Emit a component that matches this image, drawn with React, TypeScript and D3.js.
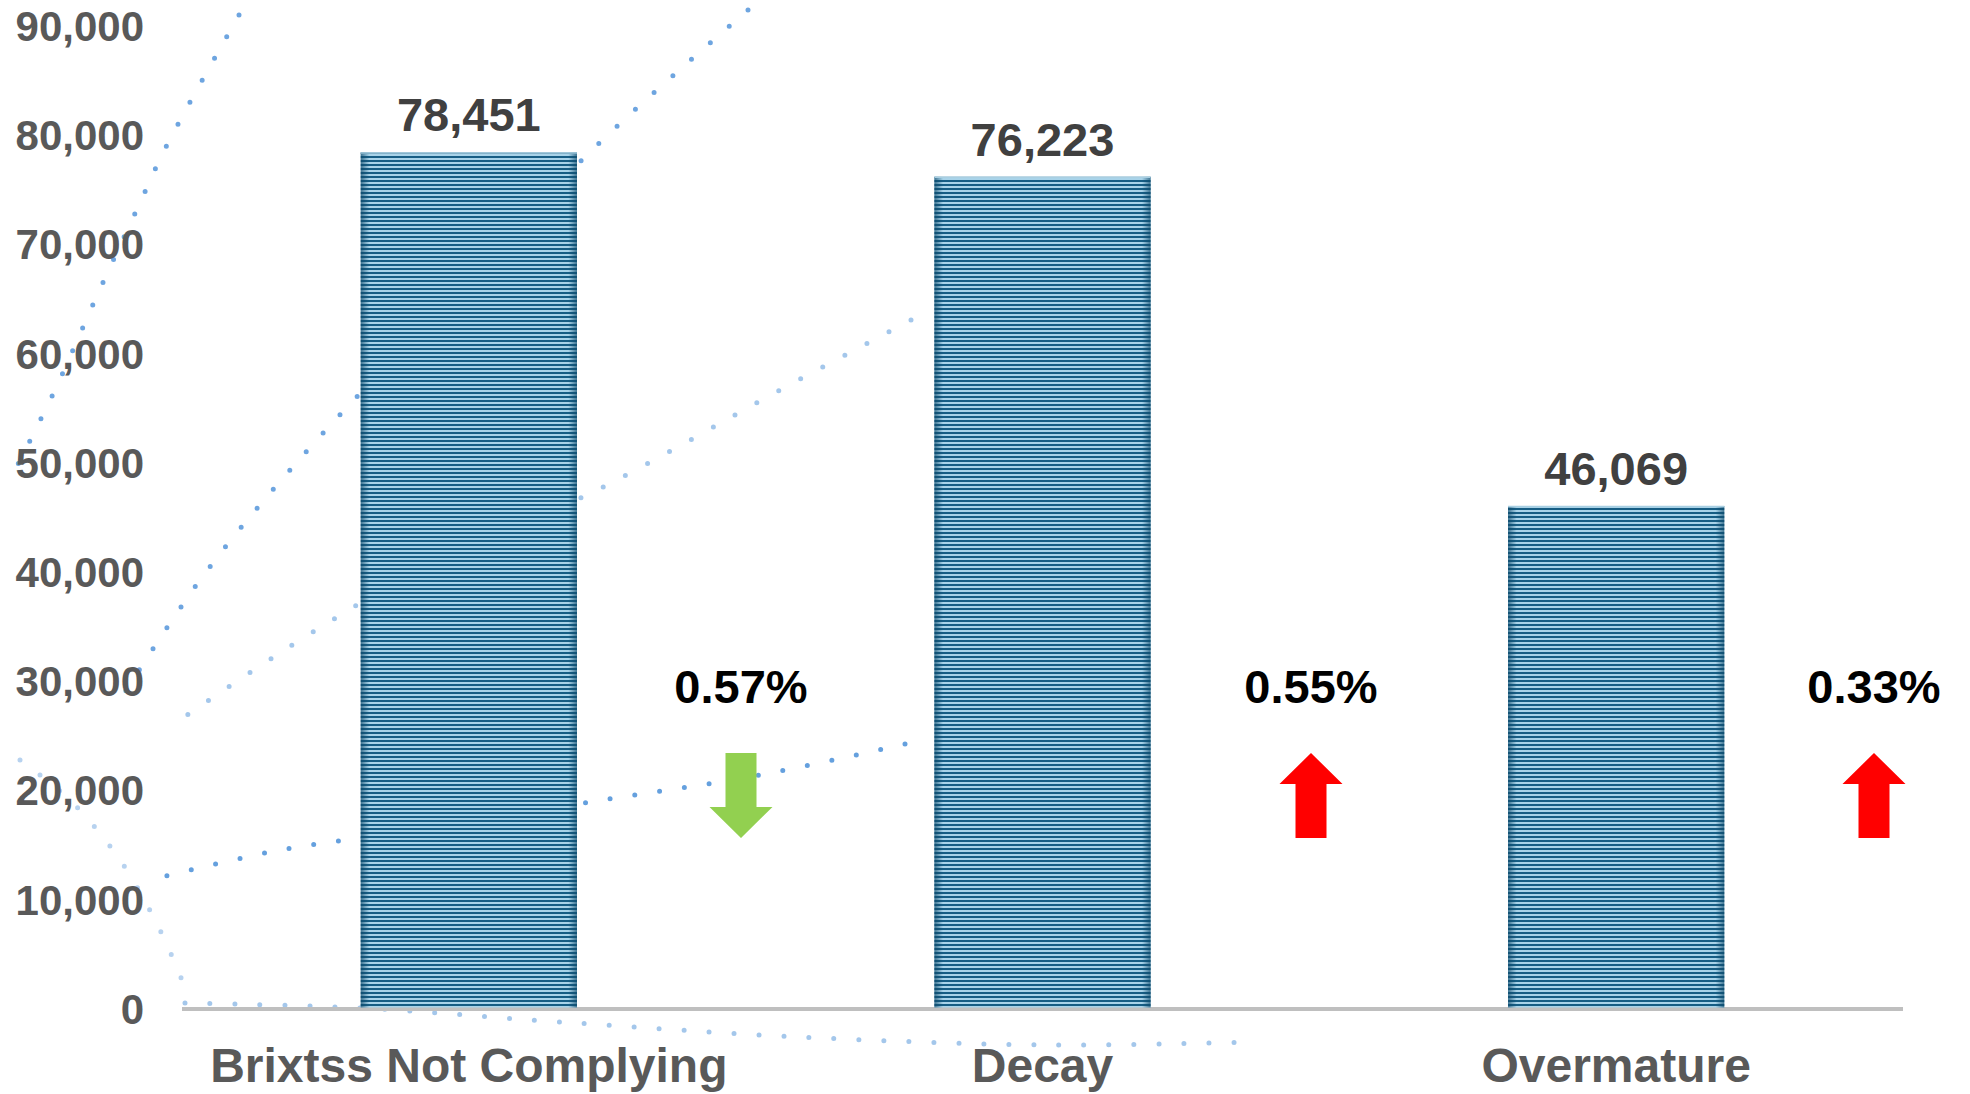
import React from "react";
import * as d3 from "d3";

const categories = ["Brixtss Not Complying", "Decay", "Overmature"];
const counts = [78451, 76223, 46069];
const changeLabels = ["0.57%", "0.55%", "0.33%"];
const changeDirections = ["down", "up", "up"];
const yTicks = [0, 10000, 20000, 30000, 40000, 50000, 60000, 70000, 80000, 90000];

// faint dotted curves of the slide background
const bgCurves: [number, number][][] = [
  [[239, 15], [167, 145], [138, 207], [95, 300], [55, 390], [15, 470]],
  [[748, 10], [594, 148], [420, 330], [290, 470], [200, 580], [120, 700]],
  [[911, 320], [780, 390], [597, 490], [420, 570], [300, 640], [180, 720]],
  [[905, 744], [760, 775], [590, 802], [420, 830], [280, 850], [150, 880]],
  [[185, 1003], [360, 1008], [560, 1022], [800, 1037], [1050, 1045], [1250, 1042]],
  [[20, 760], [70, 800], [120, 860], [160, 930], [190, 1000]],
];
const bgOpacity = [0.8, 0.8, 0.5, 0.85, 0.5, 0.4];

const W = 1970;
const H = 1094;
const left = 182;
const right = 1903;
const bottom = 1009;
const top = 26.4;

export default function App() {
  const x = d3.scaleBand<string>().domain(categories).range([left, right]).paddingInner(0.623).paddingOuter(0.3115);
  const y = d3.scaleLinear().domain([0, 90000]).range([bottom, top]);
  // change markers sit in the gaps to the right of each bar
  const xMark = d3.scaleLinear().domain([0, 1, 2]).range([741, 1311, 1874]);
  const fmt = d3.format(",");
  const bgLine = d3.line().curve(d3.curveCatmullRom);
  const bw = x.bandwidth();

  const arrow = (cx: number, dir: string) => {
    const t = 753, b = 838, head = 31, hw = 31.5, sw = 15.5;
    if (dir === "up") {
      return `M${cx},${t} L${cx + hw},${t + head} L${cx + sw},${t + head} L${cx + sw},${b} L${cx - sw},${b} L${cx - sw},${t + head} L${cx - hw},${t + head} Z`;
    }
    return `M${cx - sw},${t} L${cx + sw},${t} L${cx + sw},${b - head} L${cx + hw},${b - head} L${cx},${b} L${cx - hw},${b - head} L${cx - sw},${b - head} Z`;
  };

  return (
    <svg width={W} height={H} style={{ position: "absolute", left: 0, top: 0, background: "#fff" }}
      fontFamily="'Liberation Sans', Arial, sans-serif" fontWeight="bold">
      <defs>
        <pattern id="stripes" patternUnits="userSpaceOnUse" width={8} height={4}>
          <rect width={8} height={4} fill="#a8d3e9" />
          <rect width={8} height={2} fill="#165d84" />
        </pattern>
        <linearGradient id="edge" x1="0" x2="1" y1="0" y2="0">
          <stop offset="0" stopColor="#0e4a6b" stopOpacity={0.7} />
          <stop offset="0.04" stopColor="#0e4a6b" stopOpacity={0} />
          <stop offset="0.96" stopColor="#0e4a6b" stopOpacity={0} />
          <stop offset="1" stopColor="#0e4a6b" stopOpacity={0.7} />
        </linearGradient>
      </defs>

      {bgCurves.map((pts, i) => (
        <path key={i} d={bgLine(pts) || ""} fill="none" stroke="#4a8fd8" strokeOpacity={bgOpacity[i]}
          strokeWidth={5} strokeLinecap="round" strokeDasharray="0 25" />
      ))}

      {yTicks.map((t) => (
        <text key={t} x={144} y={y(t)} dy="0.35em" textAnchor="end" fontSize={42} fill="#595959">
          {fmt(t)}
        </text>
      ))}

      <line x1={left} x2={right} y1={bottom} y2={bottom} stroke="#bfbfbf" strokeWidth={4} />

      {categories.map((c, i) => {
        const bx = x(c) as number;
        const mx = xMark(i);
        return (
          <g key={c}>
            <rect x={bx} y={y(counts[i])} width={bw} height={bottom - 1.5 - y(counts[i])} fill="url(#stripes)" />
            <rect x={bx} y={y(counts[i])} width={bw} height={bottom - 1.5 - y(counts[i])} fill="url(#edge)" />
            <line x1={bx} x2={bx + bw} y1={y(counts[i]) + 0.5} y2={y(counts[i]) + 0.5} stroke="#a9cfe2" strokeWidth={1.5} />
            <text x={bx + bw / 2} y={y(counts[i]) - 21} textAnchor="middle" fontSize={47} fill="#404040">
              {fmt(counts[i])}
            </text>
            <text x={bx + bw / 2} y={1082} textAnchor="middle" fontSize={48} fill="#595959">
              {c}
            </text>
            <text x={mx} y={703} textAnchor="middle" fontSize={47} fill="#000">
              {changeLabels[i]}
            </text>
            <path d={arrow(mx, changeDirections[i])}
              fill={changeDirections[i] === "up" ? "#ff0000" : "#92d050"} />
          </g>
        );
      })}
    </svg>
  );
}
